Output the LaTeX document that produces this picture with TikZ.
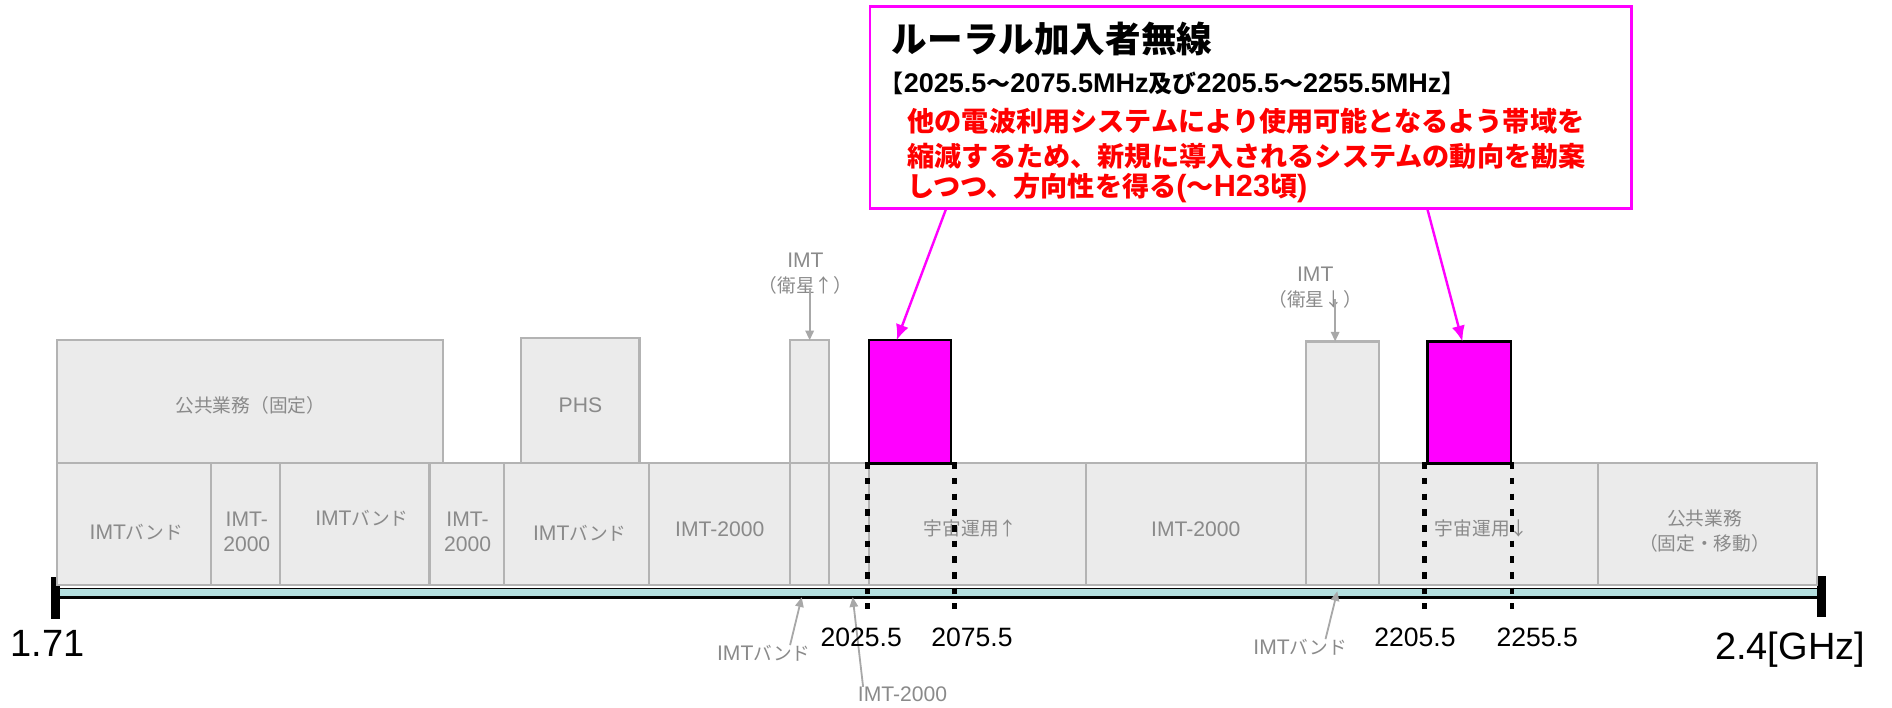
\documentclass[tikz,border=0pt]{standalone}
\usepackage{fontspec}
\setmainfont{Liberation Sans}
\newfontfamily\jp{Noto Sans CJK JP}[Scale=0.886]
\usetikzlibrary{arrows.meta,calc}

\definecolor{boxgray}{HTML}{B3B3B3}
\definecolor{boxfill}{HTML}{EBEBEB}
\definecolor{lblgray}{HTML}{8A8A8A}
\definecolor{arrgray}{HTML}{A8A8A8}
\definecolor{bandcyan}{HTML}{B3DEDE}
\definecolor{mag}{HTML}{FF00FF}
\definecolor{redtxt}{HTML}{FF0000}

\begin{document}
\begin{tikzpicture}[x=1pt,y=-1pt,
  bx/.style={draw=boxgray, line width=1.8pt, fill=boxfill, inner sep=0pt, outer sep=0pt, anchor=north west},
  pinkbx/.style={draw=black, line width=2pt, fill=mag, inner sep=0pt, outer sep=0pt, anchor=north west},
  lbl/.style={text=lblgray, font=\fontsize{17.5}{21}\selectfont, inner sep=0pt, align=center},
  axnum/.style={font=\fontsize{22}{26}\selectfont, inner sep=0pt},
  axend/.style={font=\fontsize{31.5}{36}\selectfont, inner sep=0pt},
  garrow/.style={draw=arrgray, line width=1.5pt, -{Triangle[length=8pt,width=7pt]}},
  magarrow/.style={draw=mag, line width=2pt, -{Latex[length=13pt,width=11pt]}},
  dotln/.style={draw=black, line width=4pt, dash pattern=on 5.5pt off 7.5pt},
  ctext/.style={anchor=west, inner sep=0pt}
]
\useasboundingbox (0,0) rectangle (1568,586);

% ---- axis band ----
\node[fill=bandcyan, minimum width=1459pt, minimum height=7.5pt, anchor=north west, inner sep=0pt, outer sep=0pt] (axis) at (47,487.5) {};
\draw[line width=1pt] (axis.north west) -- (axis.north east);
\draw[line width=2.2pt] (axis.south west) -- (axis.south east);
\fill (42.3,478) rectangle (49.7,513);
\fill (1506.2,477.4) rectangle (1513.1,511.5);

% ---- upper row ----
\node[bx, minimum width=320pt, minimum height=102pt] (U1) at (47,282) {};
\node[bx, minimum width=98pt, minimum height=104pt] (U2) at (432,280) {};
\node[bx, minimum width=32pt, minimum height=102pt] (U3) at (655,282) {};
\node[bx, minimum width=60pt, minimum height=101pt] (U5) at (1082.5,283) {};

% ---- lower row ----
\node[bx, minimum width=128pt, minimum height=101pt] (L1) at (47,384) {};
\node[bx, minimum width=57pt, minimum height=101pt] (L2) at (175,384) {};
\node[bx, minimum width=124pt, minimum height=101pt] (L3) at (232,384) {};
\node[bx, minimum width=62pt, minimum height=101pt] (L4) at (356,384) {};
\node[bx, minimum width=120pt, minimum height=101pt] (L5) at (418,384) {};
\node[bx, minimum width=117pt, minimum height=101pt] (L6) at (538,384) {};
\node[bx, minimum width=32pt, minimum height=101pt] (L7) at (655,384) {};
\node[bx, minimum width=33pt, minimum height=101pt] (L8) at (687,384) {};
\node[bx, minimum width=180pt, minimum height=101pt] (L9) at (720,384) {};
\node[bx, minimum width=182.5pt, minimum height=101pt] (L10) at (900,384) {};
\node[bx, minimum width=60.5pt, minimum height=101pt] (L11) at (1082.5,384) {};
\node[bx, minimum width=181pt, minimum height=101pt] (L12) at (1143,384) {};
\node[bx, minimum width=182pt, minimum height=101pt] (L13) at (1324,384) {};

% ---- pink bands ----
\node[pinkbx, minimum width=68pt, minimum height=102pt] (P1) at (720,282) {};
\node[pinkbx, minimum width=69pt, minimum height=101pt] (P2) at (1183,283) {};

% ---- box labels ----
\node[lbl] (tU1) at (207.5,335.6) {\jp 公共業務（固定）};
\node[lbl] (tU2) at (481,335.6) {PHS};
\node[lbl] (tL1) at (113,441) {IMT{\jp バンド}};
\node[lbl] (tL2) at (204.5,440.5) {IMT-\\2000};
\node[lbl] (tL3) at (300,429.5) {IMT{\jp バンド}};
\node[lbl] (tL4) at (387.5,440.5) {IMT-\\2000};
\node[lbl] (tL5) at (480.5,442) {IMT{\jp バンド}};
\node[lbl] (tL6) at (596.5,439) {IMT-2000};
\node[lbl] (tL9) at (804.5,437.7) {\jp 宇宙運用↑};
\node[lbl] (tL10) at (991,439) {IMT-2000};
\node[lbl] (tL12) at (1228,437.7) {\jp 宇宙運用↓};
\node[lbl] (tL13) at (1412.6,440) {{\jp 公共業務}\\{\jp （固定・移動）}};

% ---- satellite labels ----
\node[lbl] (S1) at (667.5,226.5) {IMT\\{\jp （衛星↑）}};
\node[lbl] (S2) at (1090,238.3) {IMT\\{\jp （衛星↓）}};
\draw[garrow] ([yshift=5pt]S1.south -| U3.north) -- (U3.north);
\draw[garrow] ([yshift=8pt]S2.south -| {$(U5.north west)!0.4!(U5.north east)$}) -- ($(U5.north west)!0.4!(U5.north east)$);

% ---- bottom labels ----
\node[lbl] (B1) at (633,541.5) {IMT{\jp バンド}};
\node[lbl] (B2) at (748,575.6) {IMT-2000};
\node[lbl] (B3) at (1077.5,536.6) {IMT{\jp バンド}};
\coordinate (a1) at (664.4,495);
\coordinate (a2) at (706.7,495);
\coordinate (a3) at (1108.3,490);
\draw[garrow] ($(B1.north west)!0.78!(B1.north east)$) -- (a1);
\draw[garrow] ($(B2.north west)!0.06!(B2.north east)$) -- (a2);
\draw[garrow] ($(B3.north west)!0.77!(B3.north east)$) -- (a3);

% ---- axis numbers ----
\node[axend] (lo) at (39.6,533) {1.71};
\node[axend] (hi) at (1483.5,538) {2.4[GHz]};
\node[axnum] (n1) at (713.8,528.6) {2025.5};
\node[axnum] (n2) at (805.5,528.6) {2075.5};
\node[axnum] (n3) at (1172.7,528.6) {2205.5};
\node[axnum] (n4) at (1274,528.6) {2255.5};

% ---- dotted band edges ----
\coordinate (d1t) at (719.1,383); \coordinate (d1b) at (719.1,505);
\coordinate (d2t) at (791,383);   \coordinate (d2b) at (791,505);
\coordinate (d3t) at (1180.5,383);\coordinate (d3b) at (1180.5,505);
\coordinate (d4t) at (1253.1,383);\coordinate (d4b) at (1253.1,505);
\draw[dotln] (d1t) -- (d1b);
\draw[dotln] (d2t) -- (d2b);
\draw[dotln] (d3t) -- (d3b);
\draw[dotln] (d4t) -- (d4b);

% ---- callout ----
\node[draw=mag, line width=2.2pt, fill=white, minimum width=631pt, minimum height=167.5pt, anchor=north west, inner sep=0pt, outer sep=0pt] (callout) at (721,5.5) {};
\node[ctext, font=\fontsize{33.3}{36}\selectfont\bfseries] (title) at (739,32.6) {\jp ルーラル加入者無線};
\node[ctext, font=\fontsize{22.4}{25}\selectfont\bfseries] (range) at (729,69) {{\jp 【}2025.5{\jp ～}2075.5MHz{\jp 及び}2205.5{\jp ～}2255.5MHz{\jp 】}};
\node[ctext, text=redtxt, font=\fontsize{25.4}{28}\selectfont\bfseries] (r1) at (752,100.8) {\jp 他の電波利用システムにより使用可能となるよう帯域を};
\node[ctext, text=redtxt, font=\fontsize{25.4}{28}\selectfont\bfseries] (r2) at (752,129.8) {\jp 縮減するため、新規に導入されるシステムの動向を勘案};
\node[ctext, text=redtxt, font=\fontsize{25.4}{28}\selectfont\bfseries] (r3) at (752,156) {{\jp しつつ、方向性を得る}({\jp ～}H23{\jp 頃})};

\draw[magarrow] ($(callout.south west)!0.1!(callout.south east)$) -- ($(P1.north west)!0.34!(P1.north east)$);
\draw[magarrow] ($(callout.south west)!0.732!(callout.south east)$) -- ($(P2.north west)!0.42!(P2.north east)$);
\end{tikzpicture}
\end{document}
